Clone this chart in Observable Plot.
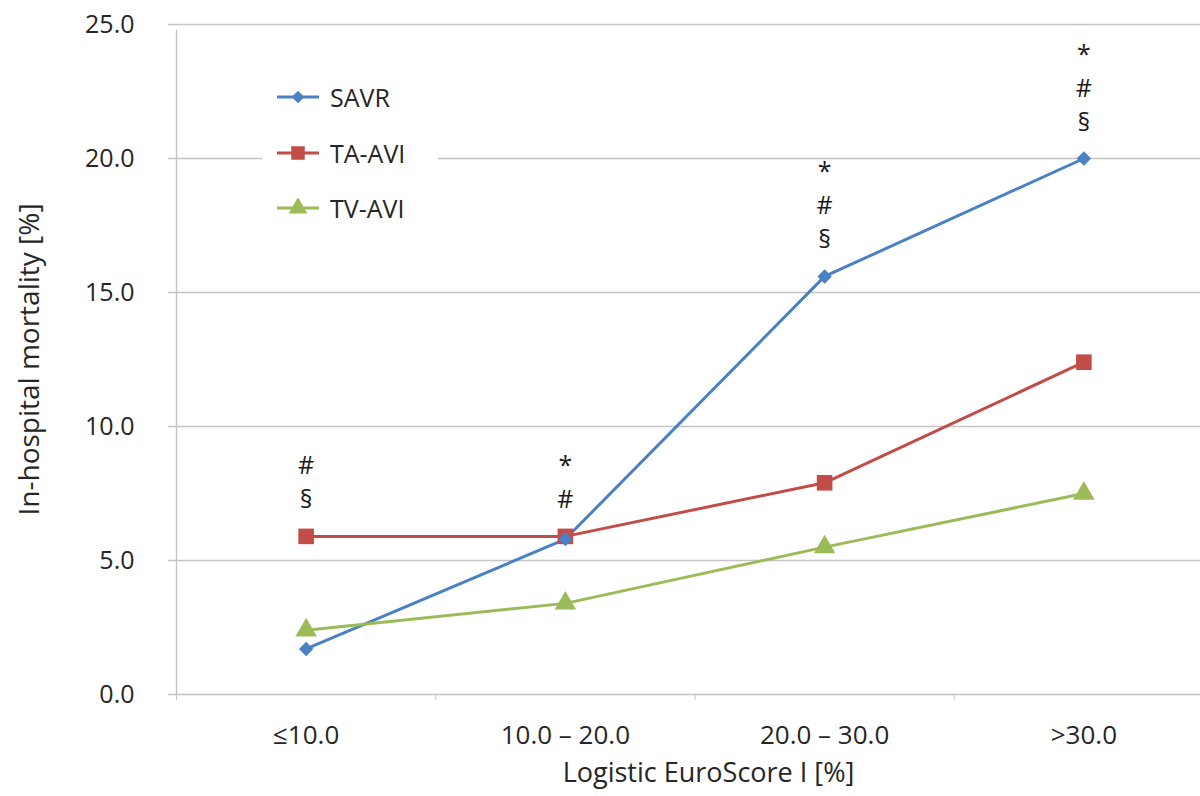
<!DOCTYPE html>
<html><head><meta charset="utf-8">
<script src="https://cdn.jsdelivr.net/npm/d3@7"></script>
<script src="https://cdn.jsdelivr.net/npm/@observablehq/plot@0.6"></script>
<style>
body{margin:0;background:#fff;}
#wrap{position:relative;width:1200px;height:796px;overflow:hidden;font-family:"Open Sans",sans-serif;}
#legend{position:absolute;left:262px;top:72px;width:176px;height:162px;background:#fff;}
.item{position:absolute;left:15px;display:flex;align-items:center;font-size:25px;color:#262626;height:34px;}
.item svg{margin-right:11px;}
</style></head><body><div id="wrap"><div id="chart"></div><div id="legend"></div></div>
<script>
const categories = ["≤10.0", "10.0 – 20.0", "20.0 – 30.0", ">30.0"];
const seriesNames = ["SAVR", "TA-AVI", "TV-AVI"];
const savr = [1.7, 5.8, 15.6, 20.0];
const taAvi = [5.9, 5.9, 7.9, 12.4];
const tvAvi = [2.4, 3.4, 5.5, 7.5];
const seriesColors = ["#4a80c4", "#c24c47", "#9bbb59"];
const seriesSymbols = ["diamond2", "square", "triangle"];
const annotations = ["#\n§", "*\n#", "*\n#\n§", "*\n#\n§"];
const yTicks = [0, 5, 10, 15, 20, 25];
const xTitle = "Logistic EuroScore I [%]";
const yTitle = "In-hospital mortality [%]";

const symbolRadius = {"diamond2": 6.5, "square": 8.8, "triangle": 8};
const seriesValues = [savr, taAvi, tvAvi];
const rows = [];
seriesNames.forEach((s, k) => seriesValues[k].forEach((v, i) => rows.push({series: s, x: i + 0.5, value: v, r: symbolRadius[seriesSymbols[k]]})));
const annoRows = annotations.map((t, i) => ({x: i + 0.5, y: Math.max(...seriesValues.map(a => a[i])), text: t}));
const midTicks = categories.map((c, i) => i + 0.5);
const boundTicks = categories.map((c, i) => i).concat([categories.length]);

const chart = Plot.plot({
  width: 1200, height: 796, marginTop: 24, marginBottom: 102, marginLeft: 176, marginRight: 0,
  style: {fontFamily: '"Open Sans", sans-serif', fontSize: "25px", color: "#262626", background: "#fff"},
  x: {domain: [0, categories.length], range: [176, 1213]},
  y: {domain: [0, 25], range: [694, 24]},
  r: {type: "identity"},
  color: {domain: seriesNames, range: seriesColors},
  symbol: {domain: seriesNames, range: seriesSymbols},
  marks: [
    Plot.ruleY(yTicks, {stroke: "#c4c4c4", strokeWidth: 1.4, insetLeft: -8}),
    Plot.ruleX([0], {y1: 0, y2: 25, stroke: "#c4c4c4", strokeWidth: 1.4, insetBottom: -6}),
    Plot.axisX(boundTicks, {tickSize: 6, stroke: "#c4c4c4", tickFormat: () => "", label: null}),
    Plot.axisX(midTicks, {tickSize: 0, tickPadding: 31, tickFormat: d => categories[Math.floor(d)], fontSize: 26, label: null}),
    Plot.axisY(yTicks, {tickSize: 0, tickPadding: 42, tickFormat: d3.format(".1f"), fontSize: 25, label: null}),
    Plot.text([xTitle], {frameAnchor: "bottom", textAnchor: "middle", lineAnchor: "middle", text: d => d, dx: 20, dy: 79, fontSize: 27, fill: "#262626"}),
    Plot.text([yTitle], {frameAnchor: "left", textAnchor: "middle", lineAnchor: "middle", text: d => d, rotate: -90, dx: -146, fontSize: 28, fill: "#262626"}),
    Plot.line(rows, {x: "x", y: "value", z: "series", stroke: "series", strokeWidth: 3}),
    Plot.dot(rows, {x: "x", y: "value", fill: "series", symbol: "series", r: "r"}),
    Plot.text(annoRows, {x: "x", y: "y", text: "text", lineAnchor: "bottom", dy: -28, lineHeight: 1.36, fontSize: 25, fill: "#1a1a1a"})
  ]
});
document.getElementById("chart").appendChild(chart);

// legend
const legend = document.getElementById("legend");
const symMap = {diamond2: d3.symbolDiamond2, square: d3.symbolSquare, triangle: d3.symbolTriangle};
const rowTops = [8, 64, 119];
seriesNames.forEach((s, k) => {
  const item = document.createElement("div");
  item.className = "item";
  item.style.top = rowTops[k] + "px";
  const rr = symbolRadius[seriesSymbols[k]];
  const path = d3.symbol(symMap[seriesSymbols[k]], Math.PI * rr * rr * 0.75)();
  item.innerHTML = `<svg width="42" height="20"><line x1="0" x2="42" y1="10" y2="10" stroke="${seriesColors[k]}" stroke-width="3"/><path d="${path}" transform="translate(21,10)" fill="${seriesColors[k]}"/></svg><span>${s}</span>`;
  legend.appendChild(item);
});
</script>
</body></html>
